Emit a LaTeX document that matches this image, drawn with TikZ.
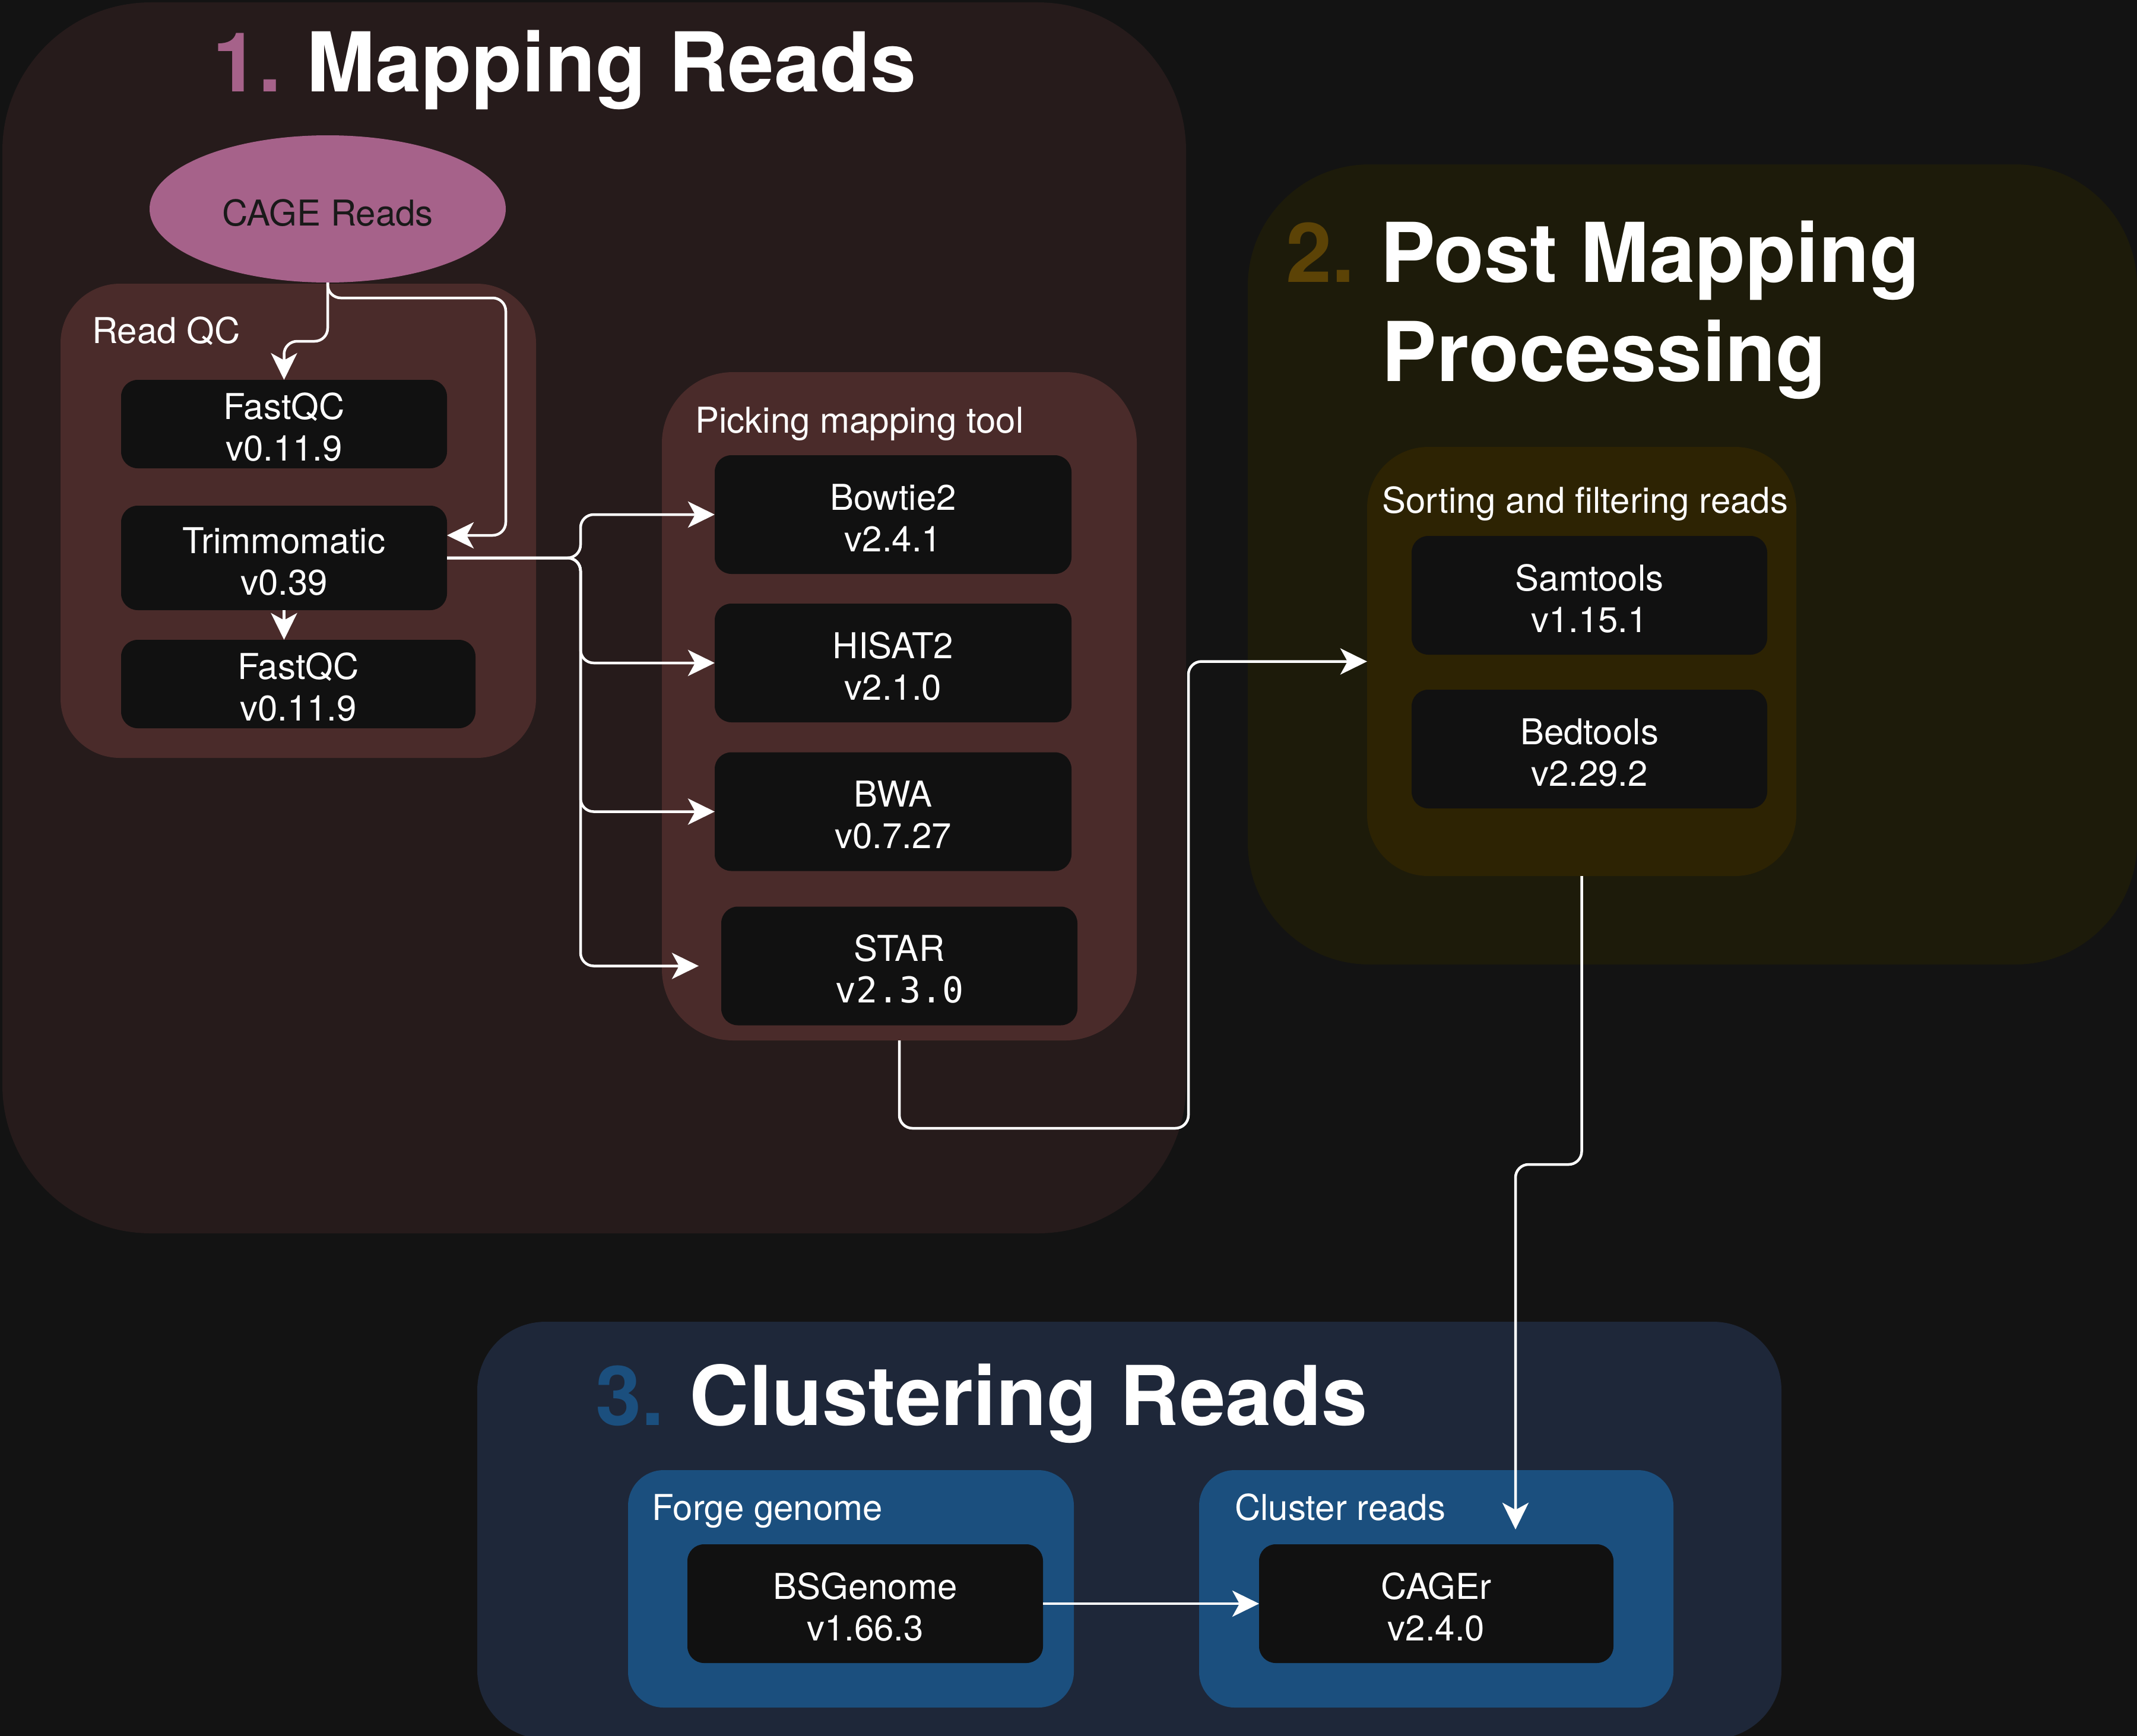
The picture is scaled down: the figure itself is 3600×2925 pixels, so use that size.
\documentclass[tikz,border=0pt]{standalone}
\usepackage{fontspec}
\setmainfont{TeX Gyre Heros}
\newfontfamily\monofont{DejaVu Sans Mono}
\usetikzlibrary{arrows.meta,shapes.geometric}
\definecolor{bgc}{HTML}{131313}
\definecolor{secA}{HTML}{261B1B}
\definecolor{grpA}{HTML}{4A2B2A}
\definecolor{ellc}{HTML}{A6628A}
\definecolor{secB}{HTML}{1D1B0A}
\definecolor{grpB}{HTML}{2D2303}
\definecolor{numB}{HTML}{5C4306}
\definecolor{secC}{HTML}{1E2739}
\definecolor{grpC}{HTML}{1B4F7E}
\definecolor{toolc}{HTML}{111111}
\newcommand{\lblfont}{\fontsize{60}{70}\selectfont}
\newcommand{\ttlfont}{\fontsize{139}{167}\selectfont\bfseries}
\tikzset{
  cont/.style={inner sep=0pt, outer sep=0pt, draw=none},
  tool/.style={fill=toolc, rounded corners=28pt, minimum width=600pt, minimum height=200pt,
    text=white, align=center, font=\lblfont, inner sep=0pt, outer sep=0pt,
    text height=124pt, text depth=0pt},
  lab/.style={anchor=base west, text=white, font=\lblfont, inner sep=0pt},
  ttl/.style={text=white, font=\ttlfont, inner sep=0pt},
  conn/.style={draw=white, line width=4.5pt, rounded corners=22pt,
    -{Stealth[length=45pt,width=44pt,inset=12pt]}}
}
\begin{document}
\begin{tikzpicture}[x=1pt,y=-1pt]
\useasboundingbox (0,0) rectangle (3600,2925);
\fill[bgc] (0,0) rectangle (3600,2925);

% sections
\node[cont, fill=secA, rounded corners=250pt, minimum width=1994pt, minimum height=2074pt] (sec1) at (1001,1041) {};
\node[cont, fill=secB, rounded corners=205pt, minimum width=1498pt, minimum height=1348pt] (sec2) at (2851,951) {};
\node[cont, fill=secC, rounded corners=115pt, minimum width=2197pt, minimum height=703pt] (sec3) at (1902.5,2578.5) {};

% groups
\node[cont, fill=grpA, rounded corners=100pt, minimum width=801pt, minimum height=799pt] (readqc) at (502.5,877.5) {};
\node[cont, fill=grpA, rounded corners=120pt, minimum width=800pt, minimum height=1126pt] (pick) at (1515,1190) {};
\node[cont, fill=grpB, rounded corners=103pt, minimum width=723pt, minimum height=723pt] (sort) at (2664.5,1114.5) {};
\node[cont, fill=grpC, rounded corners=60pt, minimum width=751pt, minimum height=400pt] (forge) at (1433.5,2677) {};
\node[cont, fill=grpC, rounded corners=60pt, minimum width=799pt, minimum height=400pt] (clus) at (2419.5,2677) {};

% titles
\node[ttl, anchor=base west] (t1) at (358,154) {\textcolor{ellc}{1.}\hspace{-9pt} Mapping Reads};
\node[ttl, anchor=base] (t2a) at (2700.5,475) {\textcolor{numB}{2.}\hspace{-9pt} Post Mapping};
\node[ttl, anchor=base] (t2b) at (2702,642) {Processing};
\node[ttl, anchor=base west] (t3) at (1003,2401) {\textcolor{grpC}{3.}\hspace{-9pt} Clustering Reads};

% group labels
\node[lab] (lqc) at (155,578) {Read QC};
\node[lab] (lpick) at (1171,729) {Picking mapping tool};
\node[lab] (lsort) at (2328,864) {Sorting and filtering reads};
\node[lab] (lforge) at (1098,2561) {Forge genome};
\node[lab] (lclus) at (2080,2561) {Cluster reads};

% CAGE reads
\node[ellipse, fill=ellc, minimum width=600pt, minimum height=248pt, inner sep=0pt, outer sep=0pt,
  font=\lblfont, text={black!90}, text height=56pt, text depth=0pt] (cage) at (552,352) {CAGE Reads};

% tools
\node[tool, minimum width=549pt, minimum height=149pt] (fq1) at (478.5,714.5) {FastQC\\v0.11.9};
\node[tool, minimum width=549pt, minimum height=176pt] (trim) at (478.5,940) {Trimmomatic\\v0.39};
\node[tool, minimum width=597pt, minimum height=149pt] (fq2) at (502.5,1152.5) {FastQC\\v0.11.9};
\node[tool, minimum width=601pt] (bt) at (1504.5,867) {Bowtie2\\v2.4.1};
\node[tool, minimum width=601pt] (hs) at (1504.5,1117) {HISAT2\\v2.1.0};
\node[tool, minimum width=601pt] (bwa) at (1504.5,1367.5) {BWA\\v0.7.27};
\node[tool, minimum width=600pt] (star) at (1515,1627.5) {STAR\\{\monofont v2.3.0}};
\node[tool, minimum width=599pt] (sam) at (2677.5,1003) {Samtools\\v1.15.1};
\node[tool, minimum width=599pt] (bed) at (2677.5,1262) {Bedtools\\v2.29.2};
\node[tool, minimum width=599pt] (bsg) at (1457.5,2702) {BSGenome\\v1.66.3};
\node[tool, minimum width=597pt] (cager) at (2419.5,2702) {CAGEr\\v2.4.0};

\coordinate (cltip) at (2553,2577);

% connectors
\draw[conn] (cage.south) -- ++(0,99) -| (fq1.north);
\draw[conn] (cage.south) -- ++(0,26) -| (852,902) -- ([yshift=38pt]trim.east);
\draw[conn] (trim.south) -- (fq2.north -| trim.south);
\draw[conn] (trim.east) -- (978,940) |- (bt.west);
\draw[conn] (trim.east) -- (978,940) |- (hs.west);
\draw[conn] (trim.east) -- (978,940) |- (bwa.west);
\draw[conn, shorten >=38pt] (trim.east) -- (978,940) |- (star.west);
\draw[conn] (pick.south) |- (2002,1901) |- (sort.west);
\draw[conn] (sort.south) |- (2553,1962) -- (cltip);
\draw[conn] (bsg) -- (cager);
\end{tikzpicture}
\end{document}
